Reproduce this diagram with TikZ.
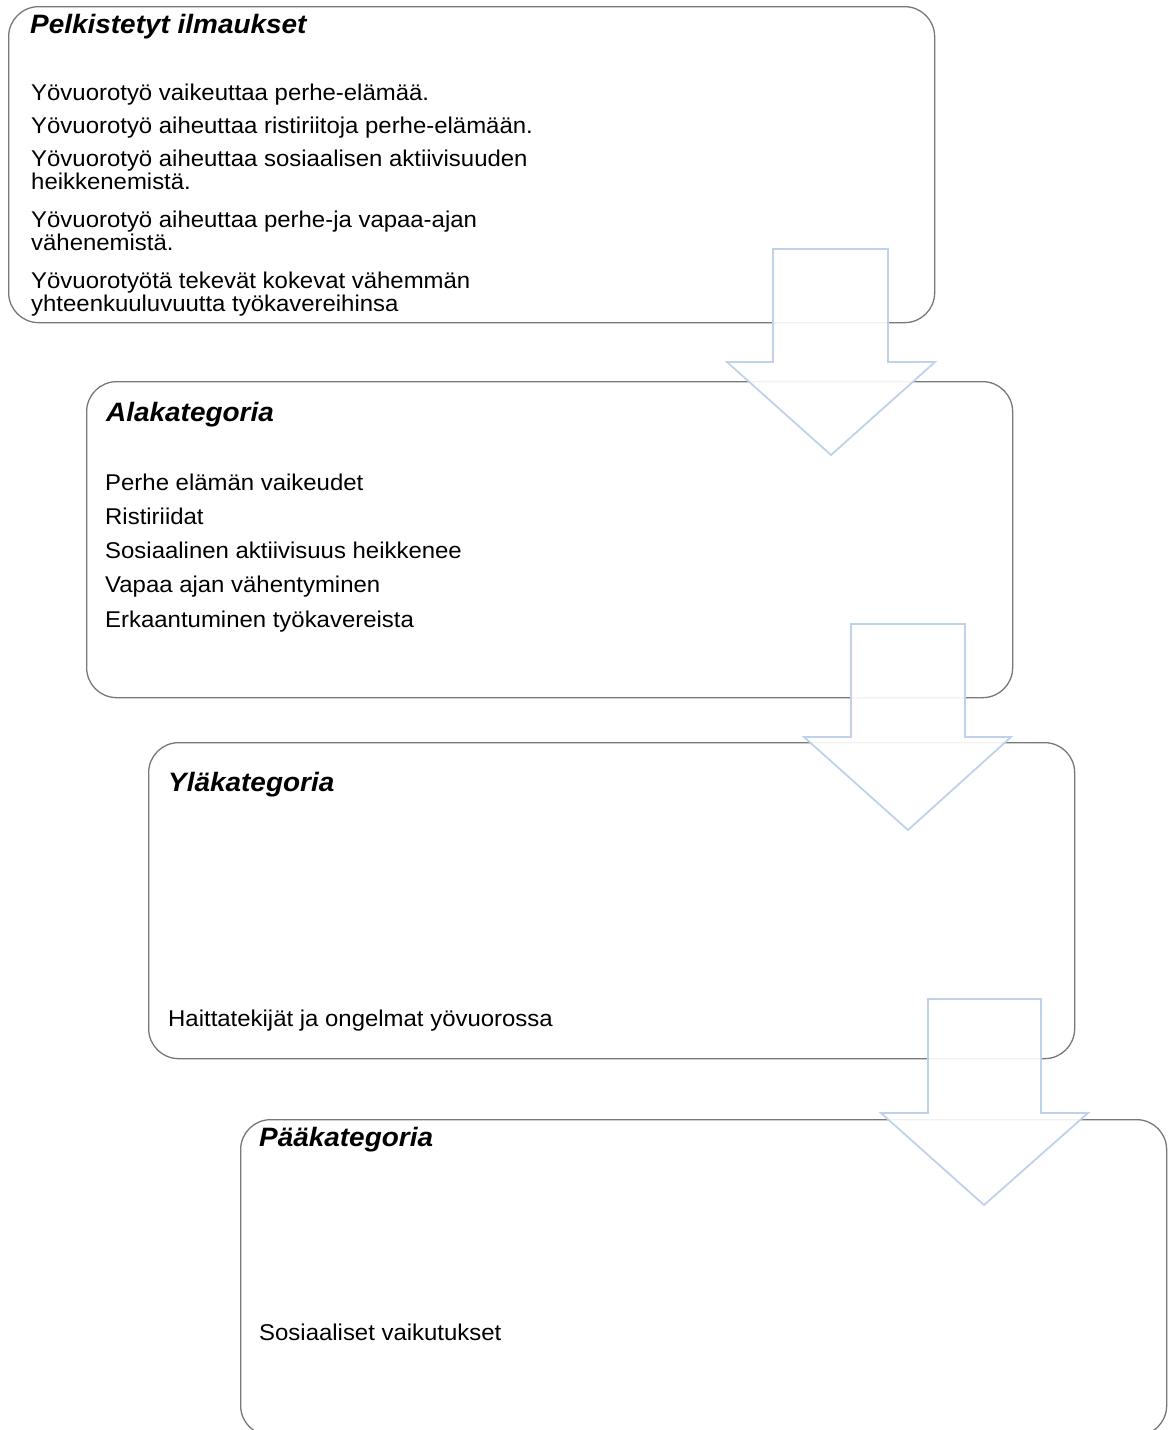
\documentclass[tikz,border=0pt]{standalone}
\usepackage{fontspec}
\setmainfont{Liberation Sans}[FakeStretch=1.05]
\definecolor{boxgray}{RGB}{120,120,120}
\definecolor{arrowblue}{RGB}{192,210,234}
\begin{document}
\begin{tikzpicture}[x=1pt,y=-1pt,
  box/.style={draw=boxgray, line width=1.3pt, rounded corners=30pt, minimum width=926pt, minimum height=316pt, anchor=north west, inner sep=0pt, fill=white},
  ttl/.style={anchor=base west, inner sep=0pt, font=\fontsize{26.6}{30}\selectfont\bfseries\itshape},
  txt/.style={anchor=base west, inner sep=0pt, font=\fontsize{22.8}{23}\selectfont},
  blockarrow/.style={draw=arrowblue, line width=1.8pt, fill=white, fill opacity=0.9, line join=miter}]
\useasboundingbox (0,0) rectangle (1171,1430);
% boxes
\node[box] (b1) at (8,6) {};
\node[box] (b2) at (86,381) {};
\node[box] (b3) at (148,742) {};
\node[box] (b4) at (240,1119) {};
% box 1 texts
\node[ttl] (t1) at (30,33) {Pelkistetyt ilmaukset};
\node[txt] (l11) at (31,100) {Yövuorotyö vaikeuttaa perhe-elämää.};
\node[txt] (l12) at (31,133) {Yövuorotyö aiheuttaa ristiriitoja perhe-elämään.};
\node[txt] (l13) at (31,166) {Yövuorotyö aiheuttaa sosiaalisen aktiivisuuden};
\node[txt] (l13b) at (31,189) {heikkenemistä.};
\node[txt] (l14) at (31,227) {Yövuorotyö aiheuttaa perhe-ja vapaa-ajan};
\node[txt] (l14b) at (31,250) {vähenemistä.};
\node[txt] (l15) at (31,288) {Yövuorotyötä tekevät kokevat vähemmän};
\node[txt] (l15b) at (31,311) {yhteenkuuluvuutta työkavereihinsa};
% box 2 texts
\node[ttl] (t2) at (106,421) {Alakategoria};
\node[txt] (l21) at (105,490) {Perhe elämän vaikeudet};
\node[txt] (l22) at (105,524) {Ristiriidat};
\node[txt] (l23) at (105,558) {Sosiaalinen aktiivisuus heikkenee};
\node[txt] (l24) at (105,592) {Vapaa ajan vähentyminen};
\node[txt] (l25) at (105,627) {Erkaantuminen työkavereista};
% box 3 texts
\node[ttl] (t3) at (168,791) {Yläkategoria};
\node[txt] (l31) at (168,1026) {Haittatekijät ja ongelmat yövuorossa};
% box 4 texts
\node[ttl] (t4) at (259,1146) {Pääkategoria};
\node[txt] (l41) at (259,1340) {Sosiaaliset vaikutukset};
% block arrows
\draw[blockarrow] (773,249) -- (888,249) -- (888,362) -- (935,362) -- (831,455) -- (727,362) -- (773,362) -- cycle;
\draw[blockarrow] (851,624) -- (965,624) -- (965,737) -- (1011,737) -- (908,830) -- (804,737) -- (851,737) -- cycle;
\draw[blockarrow] (928,999) -- (1041,999) -- (1041,1113) -- (1088,1113) -- (984,1205) -- (881,1113) -- (928,1113) -- cycle;
\end{tikzpicture}
\end{document}
